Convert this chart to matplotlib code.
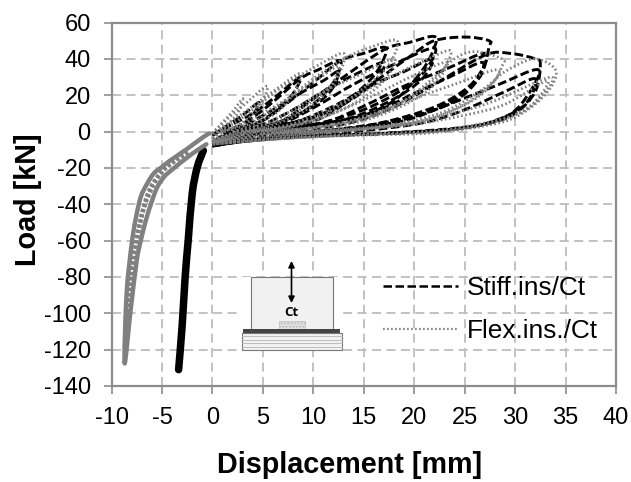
import matplotlib
matplotlib.use("Agg")
import matplotlib.pyplot as plt
from matplotlib.patches import Rectangle, PathPatch
from matplotlib.path import Path

plt.rcParams['font.family'] = ['Liberation Sans', 'DejaVu Sans']
plt.rcParams['axes.unicode_minus'] = False

W, H = 631, 482
x_ticks = list(range(-10, 45, 5))
y_ticks = list(range(-140, 80, 20))

stiff_branch_x = [-0.9, -1.5, -2.0, -2.4, -2.7, -3.0, -3.35]
stiff_branch_y = [-10.5, -19.6, -34, -60, -80, -107, -131]

flex_branch_x = [-0.3, -0.9, -2.5, -4.2, -5.0, -5.8, -6.5, -7.1, -7.6, -8.0, -8.5, -8.7,
                 -8.1, -7.5, -7.1, -6.6, -6.1, -5.5, -4.8, -4.0, -2.2, -0.6]
flex_branch_y = [-1, -3, -9.5, -16, -19.5, -23, -29, -36, -48, -62, -89, -127.5,
                 -98, -71, -60, -49, -40, -31, -25, -21, -13, -7]
flex_mid_x = [-2.5, -4.4, -5.4, -6.0, -6.8, -7.4, -7.9, -8.4, -8.6]
flex_mid_y = [-11, -18.5, -25, -31, -42, -57, -75, -100, -118]
flex_mid2_x = [-2.4, -4.4, -5.7, -6.5, -7.3, -7.7, -8.2, -8.5]
flex_mid2_y = [-11.5, -19, -27, -36, -53, -68, -92, -112]

stiff_loops_x = [
    [0, 1.5, 3, 4.6, 4, 3, 2, 1, 0],
    [0, 2, 4, 6, 8.7, 8, 6.5, 5, 3, 1, 0],
    [1, 3, 5.5, 8.7, 10.5, 12.7, 12, 10, 8, 5, 2, 0],
    [1, 3, 6, 9, 11, 12.5, 11.8, 10, 7, 4, 1, 0],
    [2, 4.5, 7, 10, 12.7, 15, 17.2, 16.3, 14, 11, 8, 4, 1, 0],
    [2, 5, 8, 11, 14, 17, 16, 13, 10, 6, 2, 0],
    [2, 5, 7, 10, 13, 17, 19.5, 22.1, 21.5, 20, 18, 15, 11, 7, 3, 0],
    [3, 7, 10, 14, 18, 22, 21, 18.5, 15, 11, 7, 3, 0],
    [3, 8, 12, 16, 19, 21.8, 20.8, 18, 14, 10, 5, 0],
    [3, 8, 11, 14, 17, 20, 22, 25, 27.4, 27.4, 26.5, 24, 21, 16, 10, 4, 0],
    [5, 11, 15, 19, 23, 27.1, 26, 23, 19, 14, 8, 0],
    [6, 13, 17, 20, 23.5, 26.8, 25.8, 23, 18, 12, 6, 0],
    [5, 12, 17, 22, 27, 29.5, 32, 32.5, 32, 30, 27, 22, 15, 8, 3, 0],
    [6, 14, 19, 23, 28, 32.3, 31, 29, 25, 18, 10, 3, 0],
    [8, 15, 21, 25, 29, 32, 31, 28, 24, 17, 9, 3, 0],
]
stiff_loops_y = [
    [-2, 3.5, 9, 16, 9, 4, 1, -2, -6],
    [-2, 4, 10, 18, 30, 21, 12, 6, 1.5, -2.5, -6],
    [0, 4, 14, 29, 34, 39, 27, 15, 8, 2.5, -1.5, -6],
    [0, 3, 12, 22, 28, 33, 23, 14, 6, 1.5, -3, -6],
    [1, 5, 14, 27, 39, 43, 46, 33, 20, 10, 4, 0, -3.5, -7],
    [1, 4, 12, 22, 31, 38, 27, 15, 8, 2.5, -1.5, -7],
    [1, 3, 6, 18, 30, 45, 49, 52, 40, 28, 17, 9, 4.5, 1.5, -1.5, -7],
    [1, 5, 13, 26, 37, 46, 33, 22, 12, 5, 1, -3, -7],
    [1, 5, 14, 26, 33, 40, 29, 18, 8, 3, -1, -7],
    [0.5, 3, 8, 19, 31, 43, 50, 52, 50, 46, 30, 18, 10, 3, -0.5, -3, -7],
    [1, 5, 14, 25, 34, 43, 28, 16, 8, 2, -1, -7],
    [1, 5, 13, 21, 30, 38, 25, 14, 6, 1, -2, -7],
    [-1, 3, 11, 26, 42, 43, 40, 37, 22, 10, 4, 0.8, -1.5, -3, -5.5, -8],
    [-2, 2, 6, 14, 25, 34, 18, 8, 2, -1, -2.5, -5.5, -8],
    [-2, 0.5, 5, 12, 22, 29, 15, 6, 1.5, -1, -2.5, -5.5, -8],
]

flex_loops_x = [
    [0, 1, 2, 3, 2.5, 1.5, 0.5, 0],
    [0, 1.5, 3, 5.4, 4.8, 3.5, 2, 0.5, 0],
    [0, 2, 4, 6, 8.7, 8, 6.5, 4.5, 2.5, 0],
    [0, 2, 4, 7, 10, 13, 12.4, 10.5, 8, 5, 2, 0],
    [0, 3, 5, 8, 10.5, 12.5, 11.8, 9.5, 7, 4, 1.5, 0],
    [1, 4, 7, 10, 13, 15.5, 18.3, 17.4, 15, 12, 8, 4, 0],
    [2, 5, 8, 11, 14.5, 18, 17, 14.5, 11, 7, 3, 0],
    [2, 7, 10, 14, 18, 21, 23.6, 22.6, 20, 16, 12, 7, 3, 0],
    [3, 8, 12, 16, 20, 23.2, 22, 19.5, 15, 10, 5, 0],
    [4, 10, 15, 19, 22, 24, 26, 28.7, 28.7, 27.8, 25, 21, 16, 10, 4, 0],
    [5, 11, 16, 20, 24, 28.3, 27, 24, 20, 14, 8, 0],
    [5, 12, 18, 23, 27, 29, 31.9, 34, 33.5, 31.5, 28.6, 22, 15, 8, 3, 0],
    [6, 13, 19, 24, 28, 33.6, 32, 29, 23, 15, 8, 3, 0],
    [7, 14, 20, 25, 29, 33.2, 31.5, 28, 22, 15, 8, 3, 0],
]
flex_loops_y = [
    [-1, 5, 11, 18, 10, 4, -1, -4],
    [-1, 7, 14, 25, 15, 7, 2, -2, -4],
    [-1, 6, 14, 22, 32, 21, 11, 5, 0.5, -5],
    [-1, 4, 12, 25, 35, 43, 30, 17, 8, 2, -2, -5],
    [-1, 4, 10, 20, 29, 36, 26, 15, 7, 1.5, -2, -5],
    [0, 5, 16, 29, 40, 46, 50, 36, 24, 12, 4, -0.5, -6],
    [0, 4, 12, 22, 31, 40, 28, 17, 8, 2, -1, -6],
    [0, 3, 9, 19, 31, 39, 44.5, 32, 20, 10, 4, 0, -2.5, -6],
    [0, 3, 10, 20, 31, 38, 26, 16, 6, 1, -2, -6],
    [0, 2, 7, 17, 30, 40, 44, 40, 36, 27, 15, 6, 2, -1, -3, -6],
    [0, 3, 9, 18, 26, 34, 22, 12, 5, 0.5, -2, -6],
    [-1, 1, 4, 11, 24, 33, 40, 34, 24, 13, 5, -0.6, -2, -3.5, -5.5, -7],
    [-1, 1, 4, 10, 17, 30, 16, 7, 0.5, -1.5, -3.5, -5.5, -7],
    [-1, 1, 4, 9, 15, 28, 14, 6, 0.5, -1.5, -3.5, -5.5, -7],
]

GRAY = '#808080'


def smooth_path(xs, ys):
    # curve through the read points (Bezier segments with Catmull-Rom tangents)
    pts = list(zip(xs, ys))
    verts = [pts[0]]
    codes = [Path.MOVETO]
    n = len(pts)
    for i in range(n - 1):
        p0 = pts[max(i - 1, 0)]
        p1 = pts[i]
        p2 = pts[i + 1]
        p3 = pts[min(i + 2, n - 1)]
        c1 = (p1[0] + (p2[0] - p0[0]) / 6, p1[1] + (p2[1] - p0[1]) / 6)
        c2 = (p2[0] - (p3[0] - p1[0]) / 6, p2[1] - (p3[1] - p1[1]) / 6)
        verts += [c1, c2, p2]
        codes += [Path.CURVE4] * 3
    return Path(verts, codes)


def curve(ax, xs, ys, **kw):
    ax.add_patch(PathPatch(smooth_path(xs, ys), fill=False, **kw))


fig = plt.figure(figsize=(W / 100, H / 100), dpi=100, facecolor='white')
L, R, T, B = 111.5, 616, 22.5, 386
ax = fig.add_axes([L / W, 1 - B / H, (R - L) / W, (B - T) / H])
ax.set_xlim(-10, 40)
ax.set_ylim(-140, 60)
ax.set_xticks(x_ticks)
ax.set_yticks(y_ticks)
ax.grid(True, color='#bdbdbd', lw=1.3, ls=(0, (5, 3)))
ax.set_axisbelow(True)
for s in ax.spines.values():
    s.set_color('#8c8c8c')
    s.set_linewidth(1.6)
ax.tick_params(axis='both', length=5.5, width=1.2, color='#8c8c8c', labelsize=17, pad=9.5, labelcolor='black')

dash = (0, (3.0, 1.2))
dot = (0, (0.6, 0.9))
for xs, ys in zip(stiff_loops_x, stiff_loops_y):
    curve(ax, xs, ys, edgecolor='black', lw=2.1, ls=dash)
curve(ax, stiff_branch_x, stiff_branch_y, edgecolor='black', lw=5.4, capstyle='round')
for xs, ys in zip(flex_loops_x, flex_loops_y):
    curve(ax, xs, ys, edgecolor=GRAY, lw=2.0, ls=dot)
curve(ax, flex_mid_x, flex_mid_y, edgecolor=GRAY, lw=3.2, ls=(0, (0.7, 0.5)))
curve(ax, flex_mid2_x, flex_mid2_y, edgecolor=GRAY, lw=3.2, ls=(0, (0.7, 0.5)))
curve(ax, flex_branch_x, flex_branch_y, edgecolor=GRAY, lw=3.2, capstyle='round', joinstyle='round')

h1, = ax.plot([], [], color='black', lw=1.8, ls=(0, (3.4, 1.4)))
h2, = ax.plot([], [], color='#8c8c8c', lw=1.6, ls=(0, (0.8, 1.0)))
ax.legend([h1, h2], ['Stiff.ins/Ct', 'Flex.ins./Ct'], frameon=False, fontsize=18.9,
          loc='upper left', bbox_to_anchor=((382.5 - L) / (R - L), 1 - (276 - T) / (B - T)),
          borderaxespad=0, borderpad=0, handlelength=2.86, handletextpad=0.34, labelspacing=0.72)

fig.text(349.7 / W, 1 - 473 / H, 'Displacement [mm]', ha='center', va='baseline',
         fontsize=20.7, fontweight='bold')
fig.text(36 / W, 1 - 200 / H, 'Load [kN]', ha='center', va='baseline', rotation=90,
         rotation_mode='anchor', fontsize=20.7, fontweight='bold')

# small specimen sketch, positioned in pixels
d = fig.add_axes([0, 0, 1, 1], facecolor='none')
d.set_xlim(0, W)
d.set_ylim(H, 0)
d.axis('off')
d.add_patch(Rectangle((241, 277), 101, 74, fc='white', ec='none'))
d.add_patch(Rectangle((250.7, 276.7), 82, 53, fc='#f1f1f1', ec='#777777', lw=0.8))
d.add_patch(Rectangle((278.5, 320.5), 26.5, 8.5, fc='#e2e2e2', ec='#bbbbbb', lw=0.5, hatch='.....'))
d.add_patch(Rectangle((241.7, 332.7), 100, 17.5, fc='#f2f2f2', ec='#777777', lw=0.8))
for yy in (336, 339.5, 343, 346.5):
    d.plot([241.7, 341.7], [yy, yy], color='#b5b5b5', lw=0.6)
d.add_patch(Rectangle((243, 329), 97, 3.7, fc='#444444', ec='none'))
d.annotate('', xy=(291.5, 261), xytext=(291.5, 303),
           arrowprops=dict(arrowstyle='<|-|>', color='black', lw=1.2, mutation_scale=9, shrinkA=0, shrinkB=0))
d.text(291, 312, 'Ct', ha='center', va='center', fontsize=9.5, fontweight='bold', family=['Open Sans', 'DejaVu Sans'])

fig.savefig('out.png', dpi=100)
